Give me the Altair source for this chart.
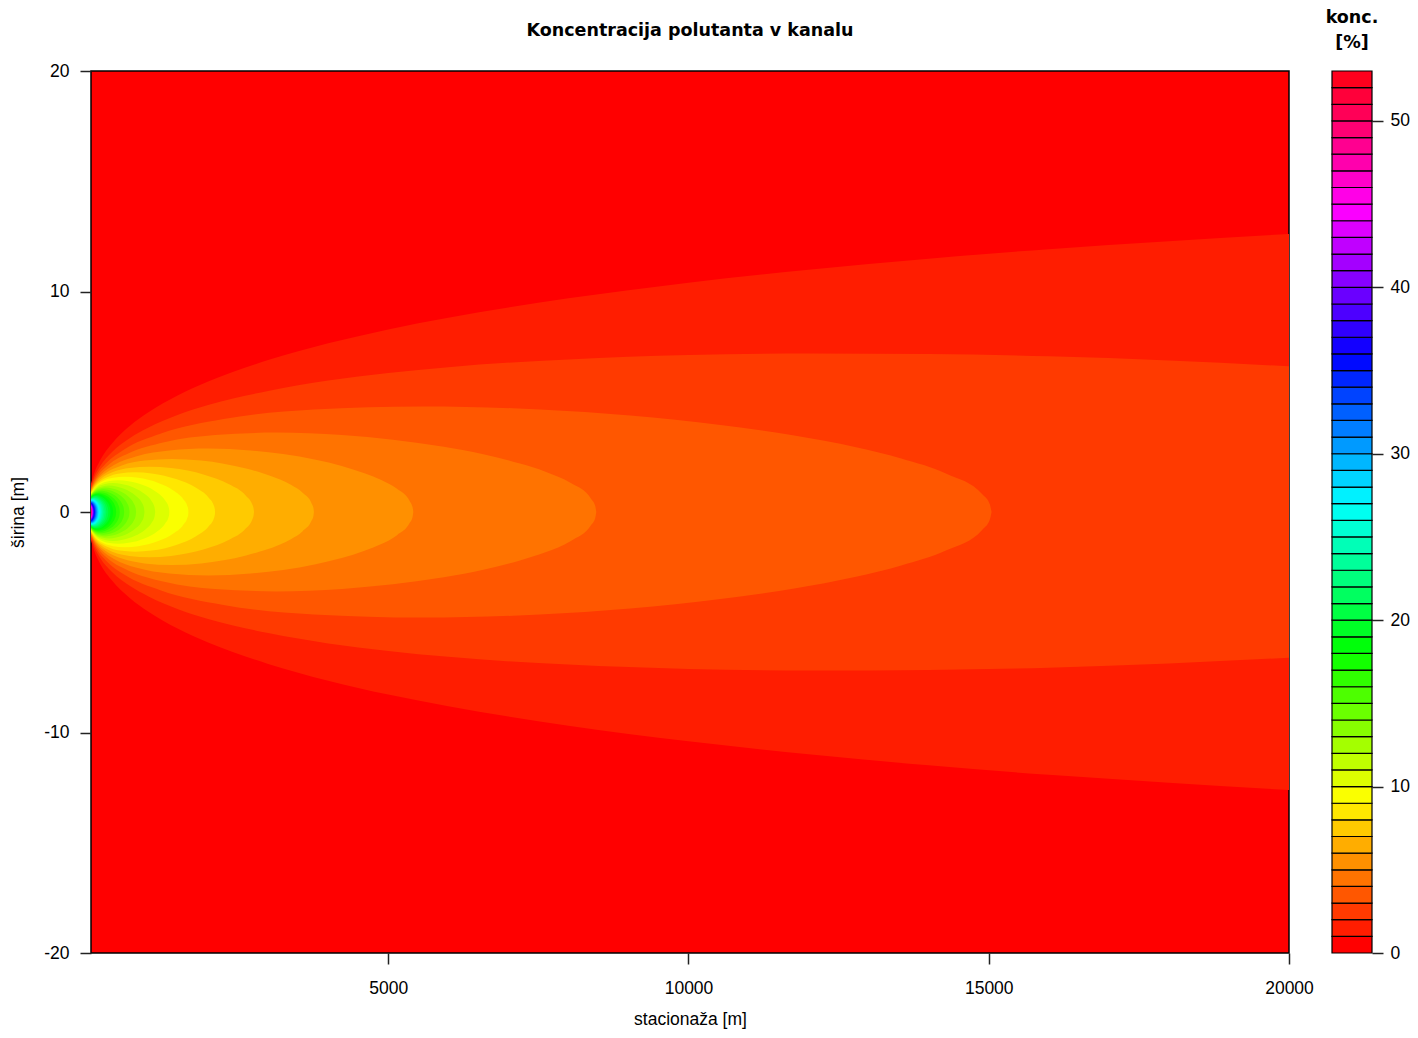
import colorsys
import altair as alt
import pandas as pd

# ---------------- data ----------------
x_domain = [50, 20000]
y_domain = [-20, 20]
x_ticks = [5000, 10000, 15000, 20000]
y_ticks = [-20, -10, 0, 10, 20]
key_ticks = [0, 10, 20, 30, 40, 50]
key_lo = list(range(0, 53))          # colour-key band lower bounds [%]
key_hi = list(range(1, 54))          # colour-key band upper bounds [%]

# contour C = level (%): stations along the channel [m] and half-width of the plume [m]
contour_levels = list(range(1, 52))
contour_x = [
    [50, 100, 200, 400, 700, 1000, 1500, 2000, 3000, 4000, 5000, 6000, 8000, 10000, 12000, 14000, 16000, 18000, 20000],
    [50, 100, 200, 400, 700, 1000, 1500, 2000, 3000, 4000, 5000, 6000, 8000, 10000, 12000, 14000, 16000, 18000, 20000],
    [50, 75, 150, 301, 602, 1204, 2257, 3762, 5567, 7524, 9028, 10533, 11737, 12790, 13542, 14295, 14897, 15017, 15047],
    [50, 85, 169, 339, 677, 1270, 2116, 3132, 4232, 5078, 5925, 6602, 7194, 7618, 8041, 8379, 8447, 8464],
    [50, 108, 217, 433, 813, 1354, 2004, 2708, 3250, 3792, 4225, 4604, 4875, 5146, 5363, 5406, 5417],
    [50, 75, 150, 301, 564, 941, 1392, 1881, 2257, 2633, 2934, 3198, 3386, 3574, 3724, 3754, 3762],
    [50, 111, 221, 415, 691, 1023, 1382, 1935, 2349, 2626, 2736, 2758, 2764],
    [50, 85, 169, 317, 529, 783, 1058, 1481, 1799, 2010, 2095, 2112, 2116],
    [50, 134, 251, 418, 619, 836, 1170, 1421, 1588, 1655, 1669, 1672],
    [50, 108, 203, 339, 501, 677, 948, 1151, 1286, 1341, 1351, 1354],
    [50, 168, 280, 414, 560, 783, 951, 1063, 1108, 1119],
    [50, 141, 235, 348, 470, 658, 799, 893, 931, 940],
    [50, 120, 200, 297, 401, 561, 681, 761, 793, 801],
    [50, 104, 173, 256, 346, 484, 587, 656, 684, 691],
    [50, 90, 151, 223, 301, 421, 512, 572, 596, 602],
    [50, 79, 132, 196, 265, 370, 450, 503, 524, 529],
    [50, 70, 117, 173, 234, 328, 398, 445, 464, 469],
    [50, 105, 155, 209, 293, 355, 397, 414, 418],
    [50, 94, 139, 188, 263, 319, 356, 371, 375],
    [50, 85, 125, 169, 237, 288, 322, 335, 339],
    [50, 114, 154, 215, 261, 292, 307],
    [50, 104, 140, 196, 238, 266, 280],
    [50, 95, 128, 179, 218, 243, 256],
    [50, 87, 118, 165, 200, 223, 235],
    [50, 80, 108, 152, 184, 206, 217],
    [50, 74, 100, 140, 170, 190, 200],
    [50, 69, 93, 130, 158, 177, 186],
    [50, 64, 86, 121, 147, 164, 173],
    [50, 60, 81, 113, 137, 153, 161],
    [50, 56, 75, 105, 128, 143, 151],
    [50, 71, 99, 120, 134, 141],
    [50, 66, 93, 112, 126, 132],
    [50, 62, 87, 106, 118, 124],
    [50, 59, 82, 100, 111, 117],
    [50, 55, 77, 94, 105, 111],
    [50, 52, 73, 89, 99, 105],
    [50, 69, 84, 94, 99],
    [50, 66, 80, 89, 94],
    [50, 62, 76, 85, 89],
    [50, 59, 72, 80, 85],
    [50, 56, 69, 77, 81],
    [50, 54, 65, 73, 77],
    [50, 62, 70, 73],
    [50, 60, 67, 70],
    [50, 57, 64, 67],
    [50, 54, 61, 64],
    [50, 52, 58, 61],
    [50, 56, 59],
    [50, 54, 56],
    [50, 52, 54],
    [50, 52],
]
contour_w = [
    [1.28, 1.73, 2.33, 3.11, 3.91, 4.51, 5.30, 5.92, 6.89, 7.65, 8.28, 8.81, 9.69, 10.40, 10.99, 11.49, 11.92, 12.28, 12.61],
    [1.16, 1.56, 2.07, 2.72, 3.36, 3.82, 4.41, 4.85, 5.49, 5.96, 6.30, 6.57, 6.92, 7.12, 7.19, 7.16, 7.06, 6.87, 6.61],
    [1.09, 1.29, 1.70, 2.21, 2.84, 3.55, 4.22, 4.65, 4.79, 4.65, 4.38, 3.95, 3.48, 2.94, 2.43, 1.74, 0.79, 0.35, 0],
    [1.03, 1.27, 1.66, 2.13, 2.66, 3.16, 3.49, 3.60, 3.49, 3.28, 2.96, 2.61, 2.20, 1.83, 1.31, 0.59, 0.27, 0],
    [0.99, 1.33, 1.70, 2.13, 2.53, 2.79, 2.88, 2.79, 2.63, 2.37, 2.09, 1.76, 1.46, 1.05, 0.47, 0.21, 0],
    [0.95, 1.11, 1.42, 1.78, 2.11, 2.33, 2.40, 2.33, 2.19, 1.97, 1.74, 1.47, 1.22, 0.87, 0.39, 0.18, 0],
    [0.91, 1.22, 1.52, 1.81, 1.99, 2.05, 1.99, 1.69, 1.26, 0.75, 0.34, 0.15, 0],
    [0.88, 1.06, 1.33, 1.58, 1.75, 1.80, 1.75, 1.48, 1.10, 0.65, 0.30, 0.13, 0],
    [0.85, 1.18, 1.41, 1.55, 1.60, 1.55, 1.32, 0.98, 0.58, 0.26, 0.12, 0],
    [0.83, 1.07, 1.27, 1.40, 1.44, 1.40, 1.19, 0.88, 0.52, 0.24, 0.11, 0],
    [0.80, 1.15, 1.27, 1.31, 1.27, 1.08, 0.80, 0.48, 0.22, 0],
    [0.78, 1.05, 1.16, 1.20, 1.16, 0.99, 0.73, 0.44, 0.20, 0],
    [0.76, 0.97, 1.07, 1.11, 1.07, 0.91, 0.68, 0.40, 0.18, 0],
    [0.74, 0.90, 1.00, 1.03, 1.00, 0.85, 0.63, 0.37, 0.17, 0],
    [0.72, 0.84, 0.93, 0.96, 0.93, 0.79, 0.59, 0.35, 0.16, 0],
    [0.70, 0.79, 0.87, 0.90, 0.87, 0.74, 0.55, 0.33, 0.15, 0],
    [0.68, 0.74, 0.82, 0.85, 0.82, 0.70, 0.52, 0.31, 0.14, 0],
    [0.66, 0.78, 0.80, 0.78, 0.66, 0.49, 0.29, 0.13, 0],
    [0.65, 0.74, 0.76, 0.74, 0.62, 0.46, 0.28, 0.12, 0],
    [0.63, 0.70, 0.72, 0.70, 0.59, 0.44, 0.26, 0.12, 0],
    [0.61, 0.69, 0.67, 0.56, 0.42, 0.25, 0],
    [0.60, 0.65, 0.63, 0.54, 0.40, 0.24, 0],
    [0.58, 0.63, 0.61, 0.52, 0.38, 0.23, 0],
    [0.57, 0.60, 0.58, 0.49, 0.37, 0.22, 0],
    [0.55, 0.58, 0.56, 0.47, 0.35, 0.21, 0],
    [0.54, 0.55, 0.54, 0.46, 0.34, 0.20, 0],
    [0.52, 0.53, 0.52, 0.44, 0.33, 0.19, 0],
    [0.51, 0.51, 0.50, 0.42, 0.32, 0.19, 0],
    [0.49, 0.50, 0.48, 0.41, 0.30, 0.18, 0],
    [0.48, 0.48, 0.47, 0.40, 0.29, 0.17, 0],
    [0.46, 0.45, 0.38, 0.28, 0.17, 0],
    [0.45, 0.44, 0.37, 0.28, 0.16, 0],
    [0.44, 0.42, 0.36, 0.27, 0.16, 0],
    [0.42, 0.41, 0.35, 0.26, 0.15, 0],
    [0.41, 0.40, 0.34, 0.25, 0.15, 0],
    [0.39, 0.39, 0.33, 0.25, 0.15, 0],
    [0.38, 0.32, 0.24, 0.14, 0],
    [0.36, 0.31, 0.23, 0.14, 0],
    [0.35, 0.30, 0.23, 0.13, 0],
    [0.33, 0.30, 0.22, 0.13, 0],
    [0.32, 0.29, 0.22, 0.13, 0],
    [0.30, 0.28, 0.21, 0.13, 0],
    [0.28, 0.21, 0.12, 0],
    [0.26, 0.20, 0.12, 0],
    [0.25, 0.20, 0.12, 0],
    [0.23, 0.19, 0.11, 0],
    [0.21, 0.19, 0.11, 0],
    [0.18, 0.11, 0],
    [0.16, 0.11, 0],
    [0.13, 0.11, 0],
    [0.09, 0],
]

title_text = "Koncentracija polutanta v kanalu"
x_title = "stacionaža [m]"
y_title = "širina [m]"
key_title = ["konc.", "[%]"]

# ---------------- palette: R rainbow(53) ----------------
n_bands = len(key_lo)


def rainbow(n):
    out = []
    for i in range(n):
        r, g, b = colorsys.hsv_to_rgb(i / n, 1.0, 1.0)
        out.append("#%02X%02X%02X" % (int(r * 255 + 0.5), int(g * 255 + 0.5), int(b * 255 + 0.5)))
    return out


palette = rainbow(n_bands)

# ---------------- tables ----------------
rows = []
for lv, xs, ws in zip(contour_levels, contour_x, contour_w):
    for xv, wv in zip(xs, ws):
        rows.append({"level": lv, "x": xv, "w": wv})
field_df = pd.DataFrame(rows)
key_df = pd.DataFrame({"lo": key_lo, "hi": key_hi, "band": key_lo})

FONT = "Liberation Sans"
BOLD = "DejaVu Sans"
FS = 17.5
HYPHEN_LABEL = "'' + datum.value"

x_enc = alt.X(
    "x:Q",
    scale=alt.Scale(domain=x_domain, nice=False, zero=False),
    axis=alt.Axis(values=x_ticks, labelExpr=HYPHEN_LABEL, title=x_title, grid=False, domain=False,
                  tickSize=11, tickWidth=1.5, tickColor="#222", labelFlush=False,
                  labelPadding=15, titlePadding=14),
)
y_enc = alt.Y(
    "lo:Q",
    scale=alt.Scale(domain=y_domain, nice=False, zero=False),
    axis=alt.Axis(values=y_ticks, labelExpr=HYPHEN_LABEL, title=y_title, grid=False, domain=False,
                  tickSize=11, tickWidth=1.5, tickColor="#222",
                  labelPadding=11, titlePadding=16),
)

field_layers = []
for lv in contour_levels:
    field_layers.append(
        alt.Chart(field_df)
        .transform_filter(alt.datum.level == lv)
        .transform_calculate(lo="-datum.w", hi="datum.w")
        .mark_area(interpolate="monotone", color=palette[lv], opacity=1)
        .encode(x=x_enc, y=y_enc, y2="hi:Q")
    )
field = alt.layer(*field_layers)

key_bar = (
    alt.Chart(key_df)
    .mark_rect(stroke="black", strokeWidth=1.2)
    .encode(
        x=alt.value(1241),
        x2=alt.value(1281),
        y=alt.Y("lo:Q", scale=alt.Scale(domain=[0, 53], nice=False, zero=False),
                axis=alt.Axis(orient="right", values=key_ticks, offset=83, title=None,
                              grid=False, domain=False, tickSize=11, tickWidth=1.5,
                              tickColor="#222", labelPadding=7)),
        y2="hi:Q",
        color=alt.Color("band:O", scale=alt.Scale(domain=key_lo, range=palette), legend=None),
    )
)


def label(text, xpix, ypix):
    return (
        alt.Chart(pd.DataFrame({"t": [text]}))
        .mark_text(font=BOLD, fontWeight="bold", fontSize=17.5, align="center",
                   baseline="alphabetic", color="black")
        .encode(text="t:N", x=alt.value(xpix), y=alt.value(ypix))
    )


texts = [
    label(title_text, 599, -35),
    label(key_title[0], 1261, -48),
    label(key_title[1], 1261, -23),
]

chart = (
    alt.layer(field, key_bar, *texts)
    .resolve_scale(y="independent")
    .properties(
        width=1198,
        height=882,
        padding={"left": 83, "top": 63, "right": 121, "bottom": 77},
        autosize=alt.AutoSizeParams(type="none"),
        background="white",
    )
    .configure_view(fill="#FF0000", stroke="black", strokeWidth=1.5)
    .configure_axis(labelFont=FONT, labelFontSize=FS, labelColor="black",
                    titleFont=FONT, titleFontSize=FS, titleFontWeight="normal",
                    titleColor="black")
)

chart.save("out.html", embed_options={"renderer": "svg", "actions": False})
